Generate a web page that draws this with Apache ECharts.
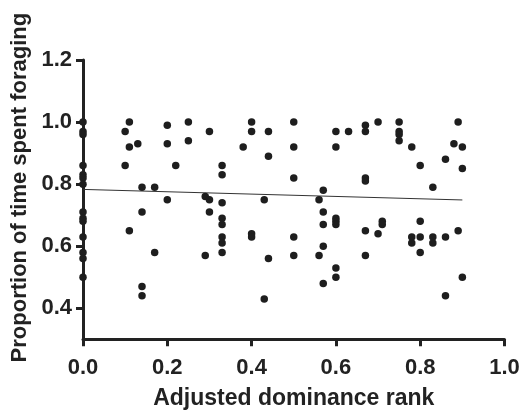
<!DOCTYPE html>
<html>
<head>
<meta charset="utf-8">
<script src="https://cdn.jsdelivr.net/npm/echarts@6/dist/echarts.min.js"></script>
<style>html,body{margin:0;padding:0;background:#fff}#c{width:520px;height:410px}</style>
</head>
<body>
<div id="c"></div>
<script>
// Adjusted dominance rank (x) and proportion of time spent foraging (y)
var rankX = [
  0,0,0,0,0,0,0,0,0,0,0,0,0,0,
  0.10,0.10,
  0.11,0.11,0.11,
  0.13,
  0.14,0.14,0.14,0.14,
  0.17,0.17,
  0.20,0.20,0.20,
  0.22,
  0.25,0.25,
  0.29,0.29,
  0.30,0.30,0.30,
  0.33,0.33,0.33,0.33,0.33,0.33,0.33,0.33,
  0.38,
  0.40,0.40,0.40,0.40,
  0.43,0.43,
  0.44,0.44,0.44,
  0.50,0.50,0.50,0.50,0.50,
  0.56,0.56,
  0.57,0.57,0.57,0.57,0.57,
  0.60,0.60,0.60,0.60,0.60,0.60,0.60,
  0.63,
  0.67,0.67,0.67,0.67,0.67,0.67,
  0.70,0.70,
  0.71,0.71,
  0.75,0.75,0.75,0.75,
  0.78,0.78,0.78,
  0.80,0.80,0.80,0.80,
  0.83,0.83,0.83,
  0.86,0.86,0.86,
  0.88,
  0.89,0.89,
  0.90,0.90,0.90
];
var foragingY = [
  1.00,0.97,0.96,0.86,0.83,0.82,0.80,0.71,0.69,0.68,0.63,0.58,0.56,0.50,
  0.97,0.86,
  1.00,0.92,0.65,
  0.93,
  0.79,0.71,0.47,0.44,
  0.79,0.58,
  0.99,0.93,0.75,
  0.86,
  1.00,0.94,
  0.76,0.57,
  0.97,0.75,0.71,
  0.86,0.83,0.74,0.69,0.67,0.63,0.61,0.58,
  0.92,
  1.00,0.97,0.64,0.63,
  0.75,0.43,
  0.97,0.89,0.56,
  1.00,0.92,0.82,0.63,0.57,
  0.75,0.57,
  0.78,0.71,0.67,0.60,0.48,
  0.97,0.92,0.69,0.68,0.67,0.53,0.50,
  0.97,
  0.99,0.97,0.82,0.81,0.65,0.57,
  1.00,0.64,
  0.68,0.67,
  1.00,0.97,0.96,0.94,
  0.92,0.63,0.61,
  0.86,0.68,0.63,0.58,
  0.79,0.63,0.61,
  0.88,0.63,0.44,
  0.93,
  1.00,0.65,
  0.92,0.85,0.50
];
// Fitted regression line endpoints
var fitX = [0, 0.9];
var fitY = [0.783, 0.749];
// Tick labels
var yTicks = [0.4, 0.6, 0.8, 1.0, 1.2];
var xTicks = [0, 0.2, 0.4, 0.6, 0.8, 1.0];

var points = rankX.map(function (x, i) { return [x, foragingY[i]]; });
var fitLine = fitX.map(function (x, i) { return [x, fitY[i]]; });

var txt = '#222222';
var font = '"Liberation Sans", Arial, Helvetica, sans-serif';
var chart = echarts.init(document.getElementById('c'), null, {renderer: 'canvas'});
chart.setOption({
  animation: false,
  backgroundColor: '#ffffff',
  grid: {left: 83, right: 15.5, top: 60, bottom: 70.7, containLabel: false, outerBoundsMode: 'none'},
  xAxis: {
    type: 'value', min: 0, max: 1.0, interval: 0.2,
    name: 'Adjusted dominance rank', nameLocation: 'middle', nameGap: 48,
    nameTextStyle: {fontFamily: font, fontWeight: 'bold', fontSize: 23, color: txt},
    axisLine: {onZero: false, lineStyle: {color: txt, width: 3}},
    axisTick: {show: true, length: 7, lineStyle: {color: txt, width: 3}},
    axisLabel: {
      margin: 18, fontFamily: font, fontWeight: 'bold', fontSize: 22, color: txt,
      customValues: xTicks,
      formatter: function (v) { return v.toFixed(1); }
    },
    splitLine: {show: false}
  },
  yAxis: {
    type: 'value', min: 0.3, max: 1.2,
    name: 'Proportion of time spent foraging', nameLocation: 'middle', nameGap: 49,
    nameTextStyle: {fontFamily: font, fontWeight: 'bold', fontSize: 22, color: txt, padding: [0, 0, 0, 24]},
    axisLine: {onZero: false, lineStyle: {color: txt, width: 3}},
    axisTick: {show: true, length: 7, lineStyle: {color: txt, width: 3}, customValues: yTicks},
    axisLabel: {
      margin: 11, fontFamily: font, fontWeight: 'bold', fontSize: 22, color: txt,
      customValues: yTicks,
      formatter: function (v) { return v.toFixed(1); }
    },
    splitLine: {show: false}
  },
  series: [
    {
      type: 'line', data: fitLine, symbol: 'none', silent: true,
      lineStyle: {color: '#333333', width: 1}, z: 1
    },
    {
      type: 'scatter', data: points, symbol: 'circle', symbolSize: 7.5,
      itemStyle: {color: '#1e1e1e', opacity: 1}, z: 2
    }
  ]
});
</script>
</body>
</html>
